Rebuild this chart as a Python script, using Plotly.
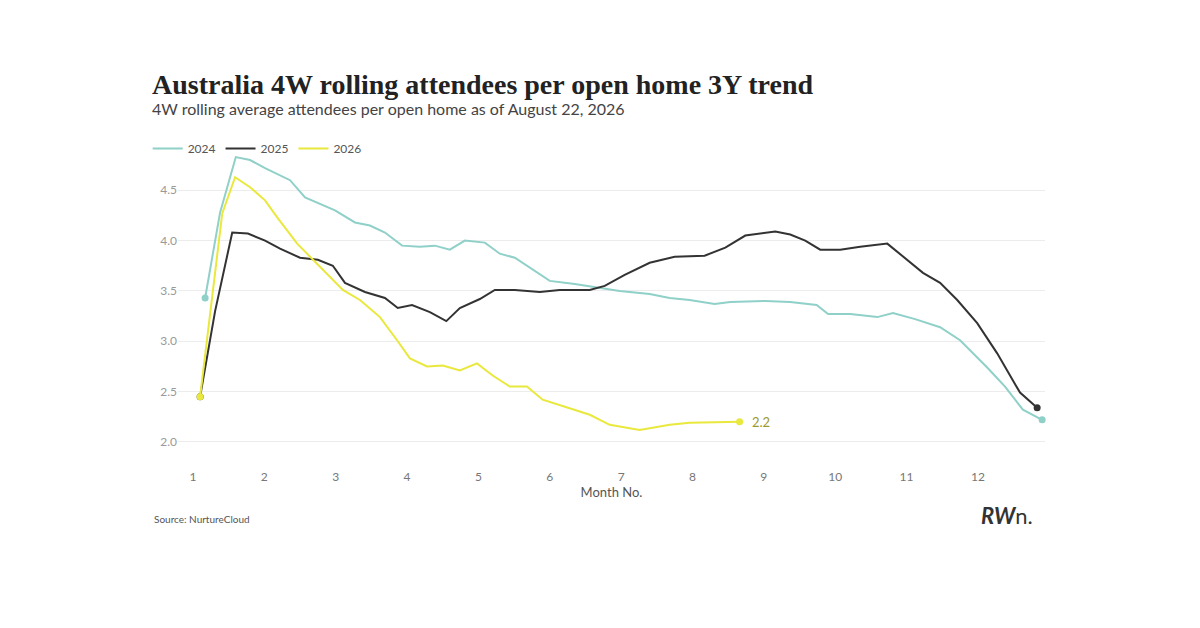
import plotly.graph_objects as go

x2024 = [1.17,1.38,1.60,1.80,2.01,2.36,2.57,2.99,3.27,3.48,3.69,3.93,4.18,4.39,4.60,4.81,5.09,5.30,5.51,5.72,6.00,6.35,6.70,6.98,7.40,7.68,7.96,8.31,8.53,9.02,9.37,9.74,9.90,10.21,10.59,10.81,11.12,11.47,11.75,12.13,12.38,12.63,12.90]
y2024 = [3.43,4.28,4.83,4.80,4.72,4.60,4.43,4.30,4.18,4.15,4.08,3.95,3.94,3.95,3.91,4.00,3.98,3.87,3.83,3.73,3.60,3.57,3.53,3.50,3.47,3.43,3.41,3.37,3.39,3.40,3.39,3.36,3.27,3.27,3.24,3.28,3.22,3.14,3.01,2.74,2.55,2.32,2.22]
x2025 = [1.10,1.31,1.55,1.77,2.01,2.22,2.50,2.75,2.96,3.13,3.41,3.69,3.87,4.07,4.32,4.55,4.74,5.02,5.23,5.51,5.86,6.14,6.56,6.77,7.05,7.40,7.75,8.17,8.46,8.74,9.16,9.37,9.58,9.79,10.07,10.35,10.73,11.23,11.47,11.71,11.99,12.27,12.59,12.83]
y2025 = [2.45,3.30,4.08,4.07,4.00,3.92,3.83,3.81,3.75,3.58,3.49,3.43,3.33,3.36,3.29,3.20,3.33,3.42,3.51,3.51,3.49,3.51,3.51,3.55,3.66,3.78,3.84,3.85,3.93,4.05,4.09,4.06,4.00,3.91,3.91,3.94,3.97,3.68,3.58,3.41,3.18,2.88,2.49,2.34]
x2026 = [1.10,1.41,1.59,1.80,2.01,2.18,2.46,2.78,3.10,3.34,3.62,3.86,4.04,4.28,4.50,4.74,4.98,5.20,5.44,5.68,5.90,6.30,6.56,6.84,7.26,7.68,7.96,8.66]
y2026 = [2.45,4.27,4.63,4.53,4.40,4.23,3.97,3.74,3.51,3.41,3.24,3.01,2.83,2.75,2.76,2.71,2.78,2.66,2.55,2.55,2.42,2.33,2.27,2.17,2.12,2.17,2.19,2.20]
month_ticks = list(range(1, 13))
y_ticks = [2.0, 2.5, 3.0, 3.5, 4.0, 4.5]

colors = {"2024": "#8fd0c8", "2025": "#333333", "2026": "#e9e83c"}
fig = go.Figure()
for name, xs, ys in [("2024", x2024, y2024), ("2025", x2025, y2025), ("2026", x2026, y2026)]:
    c = colors[name]
    fig.add_trace(go.Scatter(x=xs, y=ys, mode="lines", name=name, line=dict(color=c, width=2), cliponaxis=False))
    fig.add_trace(go.Scatter(x=[xs[-1]], y=[ys[-1]], mode="markers", showlegend=False,
                             marker=dict(color=c, size=7), cliponaxis=False))
    fig.add_trace(go.Scatter(x=[xs[0]], y=[ys[0]], mode="markers", showlegend=False,
                             marker=dict(color=c, size=7), cliponaxis=False))
fig.add_annotation(x=x2026[-1], y=y2026[-1], text=f"{y2026[-1]:.1f}", showarrow=False,
                   xanchor="left", xshift=10, font=dict(family="Lato", size=13, color="#9a9a30"))

fig.update_layout(
    width=1200, height=628, paper_bgcolor="white", plot_bgcolor="white",
    margin=dict(l=170, r=163, t=142, b=186),
    font=dict(family="Lato", color="#555"),
    showlegend=True,
    legend=dict(orientation="h", x=-0.035, y=1.005, xanchor="left", yanchor="middle",
                bgcolor="rgba(0,0,0,0)",
                font=dict(size=12, color="#555"), itemwidth=30, tracegroupgap=0),
    xaxis=dict(range=[0.79, 12.94], tickvals=month_ticks, showgrid=False, zeroline=False,
               showline=False, ticks="", tickfont=dict(size=12, color="#777"),
               ticklabelstandoff=18,
               title=dict(text="Month No.", font=dict(size=13, color="#555"), standoff=4)),
    yaxis=dict(range=[1.92, 4.9], tickvals=y_ticks, tickformat=".1f", showgrid=True,
               gridcolor="#ececec", zeroline=False, showline=False, ticks="",
               tickfont=dict(size=12, color="#999"), ticklabelstandoff=0),
)
fig.add_annotation(xref="paper", yref="paper", x=-0.032, y=1.217, xanchor="left", yanchor="middle",
                   text="<b>Australia 4W rolling attendees per open home 3Y trend</b>", showarrow=False,
                   font=dict(family="Liberation Serif", size=28, color="#222"))
fig.add_annotation(xref="paper", yref="paper", x=-0.032, y=1.137, xanchor="left", yanchor="middle",
                   text="4W rolling average attendees per open home as of August 22, 2026", showarrow=False,
                   font=dict(family="Lato", size=16, color="#444"))
fig.add_annotation(xref="paper", yref="paper", x=-0.03, y=-0.23, xanchor="left", yanchor="middle",
                   text="Source: NurtureCloud", showarrow=False, font=dict(family="Lato", size=10, color="#555"))
fig.add_annotation(xref="paper", yref="paper", x=0.988, y=-0.217, xanchor="right", yanchor="middle",
                   text="<b><i>RW</i></b>n.", showarrow=False, font=dict(family="Lato", size=22, color="#333"))
fig.write_html("out.html")
